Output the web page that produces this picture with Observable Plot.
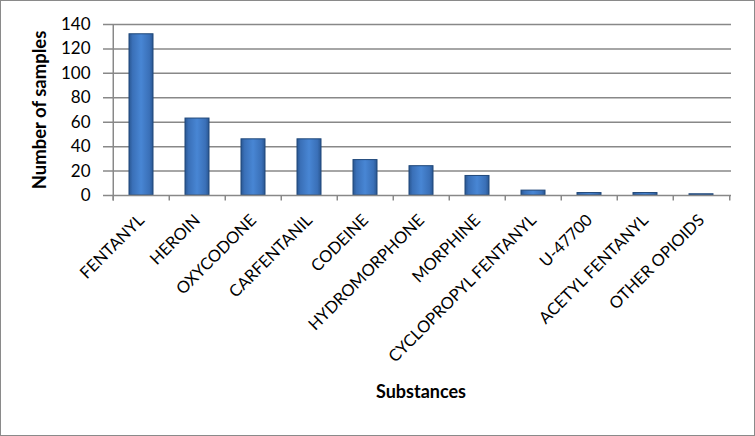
<!DOCTYPE html>
<html><head><meta charset="utf-8">
<script src="https://cdn.jsdelivr.net/npm/d3@7"></script>
<script src="https://cdn.jsdelivr.net/npm/@observablehq/plot@0.6"></script>
<style>
body{margin:0;background:#fff;}
#chart svg{display:block;outline:1px solid #8a8a8a;outline-offset:-1px;}
</style></head>
<body><div id="chart"></div>
<script>
const substances = ["FENTANYL","HEROIN","OXYCODONE","CARFENTANIL","CODEINE","HYDROMORPHONE","MORPHINE","CYCLOPROPYL FENTANYL","U-47700","ACETYL FENTANYL","OTHER OPIOIDS"];
const samples = [132, 63, 46, 46, 29, 24, 16, 4, 2, 2, 1];
const yTicks = [0,20,40,60,80,100,120,140];
const data = substances.map((s,i)=>({substance:s, n:samples[i]}));
const W=755,H=436,ml=110,mr=24,mt=24,mb=241;
const step=(W-ml-mr)/substances.length;
const chart = Plot.plot({
  width:W,height:H,marginLeft:ml,marginRight:mr,marginTop:mt,marginBottom:mb,
  style:{fontFamily:"Lato, 'Open Sans', sans-serif",background:"#fff",color:"#000"},
  x:{domain:substances,paddingInner:0.575,paddingOuter:0.2875,label:null},
  y:{domain:[0,140],label:null},
  marks:[
    Plot.ruleY(yTicks.filter(d=>d>0),{stroke:"#888",strokeWidth:1.5,insetLeft:-7}),
    Plot.barY(data,{x:"substance",y:"n",fill:"url(#barGrad)",stroke:"#1f4779",strokeWidth:1}),
    Plot.ruleY([0],{stroke:"#888",strokeWidth:1.5,insetLeft:-7}),
    Plot.ruleX(substances,{x:d=>d,y1:0,y2:-4.5,dx:-step/2,stroke:"#888",strokeWidth:1.5}),
    Plot.ruleX([substances[substances.length-1]],{x:d=>d,y1:0,y2:-4.5,dx:step/2,stroke:"#888",strokeWidth:1.5}),
    Plot.ruleX([substances[0]],{x:d=>d,y1:-4.5,y2:140,dx:-step/2,stroke:"#888",strokeWidth:1.5}),
    Plot.axisY({ticks:yTicks,tickSize:0,tickPadding:20,fontSize:17,label:null}),
    Plot.axisX({tickSize:0,tickRotate:-45,fontSize:16.5,tickPadding:22,dx:0,label:null}),
    Plot.text(["Number of samples"],{frameAnchor:"left",textAnchor:"middle",dx:-70,dy:0,rotate:-90,fontSize:18.5,fontWeight:"bold",text:d=>d}),
    Plot.text(["Substances"],{frameAnchor:"bottom",dy:202,fontSize:18,fontWeight:"bold",text:d=>d})
  ]
});
const svgns="http://www.w3.org/2000/svg";
const defs=document.createElementNS(svgns,"defs");
defs.innerHTML=`<linearGradient id="barGrad" x1="0" x2="1" y1="0" y2="0">
<stop offset="0" stop-color="#2a5792"/><stop offset="0.15" stop-color="#3a70b8"/>
<stop offset="0.5" stop-color="#4886d4"/><stop offset="0.85" stop-color="#3a70b8"/>
<stop offset="1" stop-color="#2a5792"/></linearGradient>`;
chart.insertBefore(defs,chart.firstChild);
document.getElementById("chart").appendChild(chart);
</script></body></html>
